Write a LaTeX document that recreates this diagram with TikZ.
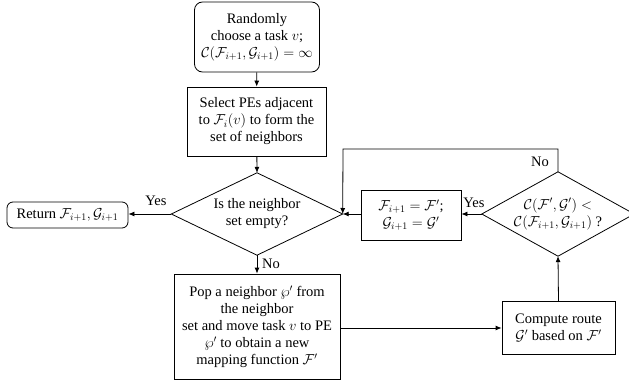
\documentclass[tikz,border=0pt]{standalone}
\usepackage{fontspec}
\setmainfont{Liberation Serif}
\usetikzlibrary{arrows.meta}
\begin{document}
\begin{tikzpicture}[x=1pt,y=-1pt,
  every node/.style={font=\fontsize{14.5}{17}\selectfont},
  proc/.style={draw,line width=0.8pt,align=center,inner sep=0pt,minimum width=#1},
  term/.style={proc=#1,rounded corners=8pt},
  dec/.style={align=center,inner sep=0pt},
  diam/.style={line width=0.8pt},
  conn/.style={line width=0.8pt,-{Latex[length=6pt,width=5pt]}},
  lbl/.style={inner sep=0pt}]
\useasboundingbox (0,0) rectangle (629,385);
\node[term=125pt,minimum height=70pt] (start) at (257,37) {Randomly\\choose a task $v$;\\$\mathcal{C}(\mathcal{F}_{i+1},\mathcal{G}_{i+1})=\infty$};
\node[proc=139pt,minimum height=69pt] (sel) at (256.5,121.5) {Select PEs adjacent\\to $\mathcal{F}_i(v)$ to form the\\set of neighbors};
\node[dec,minimum width=171pt,minimum height=82pt] (empty) at (257,214) {Is the neighbor\\set empty?};
\draw[diam] (empty.west) -- (empty.north) -- (empty.east) -- (empty.south) -- cycle;
\node[term=121pt,minimum height=26pt,rounded corners=6pt] (ret) at (67.5,215) {Return $\mathcal{F}_{i+1},\mathcal{G}_{i+1}$};
\node[proc=100pt,minimum height=50pt] (upd) at (411,215) {$\mathcal{F}_{i+1}=\mathcal{F}'$;\\$\mathcal{G}_{i+1}=\mathcal{G}'$};
\node[dec,minimum width=152pt,minimum height=84pt] (cmp) at (558,214) {$\mathcal{C}(\mathcal{F}',\mathcal{G}')<$\\$\mathcal{C}(\mathcal{F}_{i+1},\mathcal{G}_{i+1})$ ?};
\draw[diam] (cmp.west) -- (cmp.north) -- (cmp.east) -- (cmp.south) -- cycle;
\node[proc=166pt,minimum height=105pt] (pop) at (257,326.5) {Pop a neighbor $\wp'$ from\\the neighbor\\set and move task $v$ to PE\\$\wp'$ to obtain a new\\mapping function $\mathcal{F}'$};
\node[proc=113pt,minimum height=53pt] (route) at (558.5,328) {Compute route\\$\mathcal{G}'$ based on $\mathcal{F}'$};
\coordinate (c1) at (558,149);
\coordinate (c2) at (343,149);
\draw[conn] (start) -- (sel);
\draw[conn] (sel) -- (empty.north);
\draw[conn] (empty.west) -- (ret.east |- empty.west);
\draw[conn] (empty.south) -- (pop.north);
\draw[conn] (pop.east |- route.west) -- (route.west);
\draw[conn] (route.north) -- (cmp.south);
\draw[conn] (cmp.west) -- (upd.east |- cmp.west);
\draw[conn] (upd.west |- empty.east) -- (empty.east);
\draw[conn] (cmp.north) -- (c1) -- (c2) -- (empty.east);
\node[lbl] (yes1) at (156,201) {Yes};
\node[lbl] (no1) at (271,264) {No};
\node[lbl] (yes2) at (474,203) {Yes};
\node[lbl] (no2) at (540,162) {No};
\end{tikzpicture}
\end{document}
